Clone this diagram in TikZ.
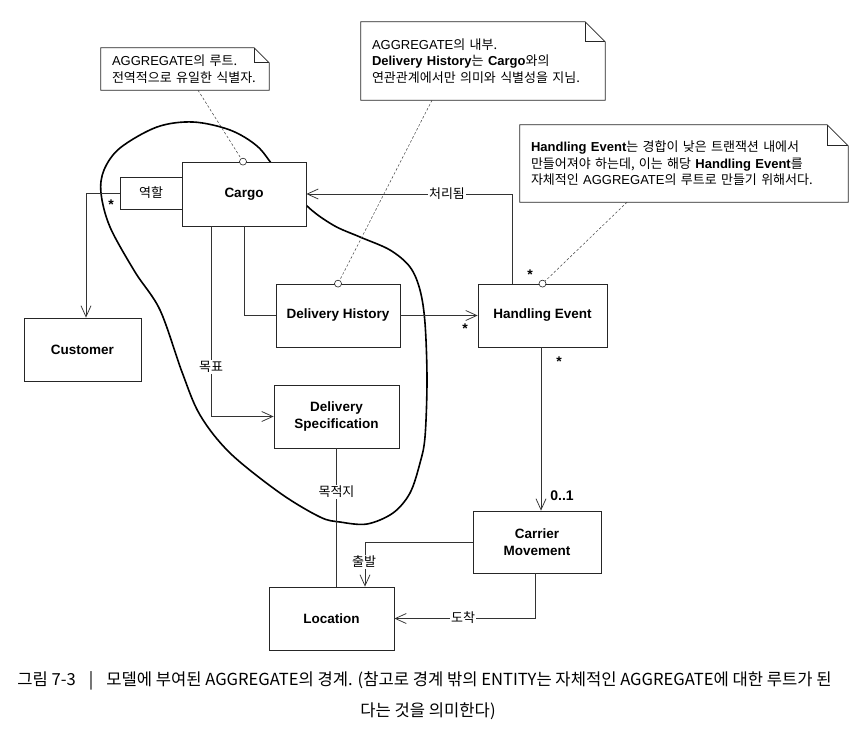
\documentclass[tikz,border=0pt]{standalone}
\usepackage{fontspec}
\setmainfont{Liberation Sans}
\newfontfamily\kr{Noto Sans CJK KR}
\usetikzlibrary{arrows.meta}
\tikzset{
  box/.style={draw=black!85, fill=white, line width=0.75pt, inner sep=0pt, align=center,
    font=\bfseries\fontsize{13.5}{16.5}\selectfont},
  ln/.style={draw=black!80, line width=0.75pt},
  arr/.style={ln, -{Straight Barb[length=11pt,width=10pt,line width=0.75pt]}},
  lbl/.style={fill=white, inner sep=1.5pt, font=\kr\fontsize{13}{15}\selectfont},
  mult/.style={inner sep=0pt, font=\bfseries\fontsize{14}{14}\selectfont},
  note/.style={fill=white, inner xsep=11pt, inner ysep=0pt, align=left,
    font=\fontsize{13}{16.5}\selectfont},
  notel/.style={draw=black!85, line width=0.75pt},
  notelink/.style={draw=black!75, line width=0.5pt, dash pattern=on 2.5pt off 2pt},
  circ/.style={circle, draw=black!85, fill=white, line width=0.6pt, minimum size=7pt, inner sep=0pt},
  blob/.style={draw=black, line width=1.6pt},
  caption/.style={inner sep=0pt, font=\kr\fontsize{16.6}{16.6}\selectfont}
}
\newcommand\notefold[2]{%
  \draw[notel] (#1.north west) -- ([xshift=-#2]#1.north east) -- ([yshift=-#2]#1.north east)
    -- (#1.south east) -- (#1.south west) -- cycle;
  \draw[notel] ([xshift=-#2]#1.north east) |- ([yshift=-#2]#1.north east);}
\begin{document}
\begin{tikzpicture}[x=1pt,y=-1pt]
\fill[white] (0,0) rectangle (856,734);
\useasboundingbox (0,0) rectangle (856,734);

% aggregate boundary
\draw[blob] plot[smooth cycle, tension=0.55] coordinates {
  (193,122) (230,130) (257,146) (275,168) (306,205) (333,225) (360,237)
  (390,250) (410,267) (420,290) (425,323) (427,380) (425,437) (420,463)
  (410,493) (393,513) (367,524) (340,522) (320,517) (280,493) (230,453)
  (200,415) (182,372) (160,310) (135,272) (110,227) (101,193) (104,170)
  (120,148) (157,127)};

% notes
\node[note, text width=146pt, minimum height=42pt] (n1) at (185,69)
  {AGGREGATE{\kr 의 루트.}\\{\kr 전역적으로 유일한 식별자.}};
\notefold{n1}{15pt}
\node[note, text width=222pt, minimum height=78pt] (n2) at (483,61)
  {AGGREGATE{\kr 의 내부.}\\\textbf{Delivery History}{\kr 는} \textbf{Cargo}{\kr 와의}\\{\kr 연관관계에서만 의미와 식별성을 지님.}};
\notefold{n2}{20pt}
\node[note, text width=306pt, minimum height=77pt] (n3) at (684,163.5)
  {\textbf{Handling Event}{\kr 는 경합이 낮은 트랜잭션 내에서}\\{\kr 만들어져야 하는데, 이는 해당} \textbf{Handling Event}{\kr 를}\\{\kr 자체적인} AGGREGATE{\kr 의 루트로 만들기 위해서다.}};
\notefold{n3}{21pt}

% boxes
\node[box, minimum width=124pt, minimum height=64pt] (cargo) at (244,194) {Cargo};
\node[box, minimum width=62pt, minimum height=32pt, font=\kr\fontsize{13}{15}\selectfont] (role) at (151,193) {역할};
\node[box, minimum width=117pt, minimum height=63pt] (cust) at (82.5,349.5) {Customer};
\node[box, minimum width=124pt, minimum height=63pt] (dh) at (338,315.5) {Delivery History};
\node[box, minimum width=125pt, minimum height=63pt] (ds) at (336.5,416.5) {Delivery\\Specification};
\node[box, minimum width=129pt, minimum height=63pt] (he) at (542.5,315.5) {Handling Event};
\node[box, minimum width=128pt, minimum height=62pt] (cm) at (537,542) {Carrier\\Movement};
\node[box, minimum width=125pt, minimum height=63pt] (loc) at (331.5,618.5) {Location};

% note anchors on boxes
\node[circ] (c1) at ([xshift=-1pt]cargo.north) {};
\node[circ] (c2) at (dh.north) {};
\node[circ] (c3) at (he.north) {};
\draw[notelink] ([xshift=13pt]n1.south) -- (c1);
\draw[notelink] ([xshift=-51pt]n2.south) -- (c2);
\draw[notelink] ([xshift=-57pt]n3.south) -- (c3);

% connectors
\draw[arr] ([xshift=-30.5pt]he.north) |- (cargo.east);
\draw[arr] (role.west) -| ([xshift=3.5pt]cust.north);
\draw[ln] (cargo.south) |- (dh.west);
\draw[arr] ([xshift=-33pt]cargo.south) |- (ds.west);
\draw[arr] (dh.east) -- (he.west);
\draw[arr] ([xshift=-1.5pt]he.south) -- ([xshift=-1.5pt]he.south |- cm.north);
\draw[ln] (ds.south) -- (ds.south |- loc.north);
\draw[arr] (cm.west) -| ([xshift=33.5pt]loc.north);
\draw[arr] ([xshift=-2pt]cm.south) |- (loc.east);

% connector labels
\node[lbl] (l1) at (447,194) {처리됨};
\node[lbl] (l2) at (211,367) {목표};
\node[lbl] (l3) at (336.5,492) {목적지};
\node[lbl] (l4) at (364,562) {출발};
\node[lbl] (l5) at (463,618) {도착};

% multiplicities
\node[mult] (m1) at (111,205) {*};
\node[mult] (m2) at (530,275) {*};
\node[mult] (m3) at (465,329) {*};
\node[mult] (m4) at (559,362) {*};
\node[mult] (m5) at (562,496) {0..1};

% caption
\node[caption] (cap1) at (424.5,681) {그림 7-3\hspace{13pt}|\hspace{13pt}모델에 부여된 AGGREGATE의 경계. (참고로 경계 밖의 ENTITY는 자체적인 AGGREGATE에 대한 루트가 된};
\node[caption] (cap2) at (428,711) {다는 것을 의미한다)};
\end{tikzpicture}
\end{document}
